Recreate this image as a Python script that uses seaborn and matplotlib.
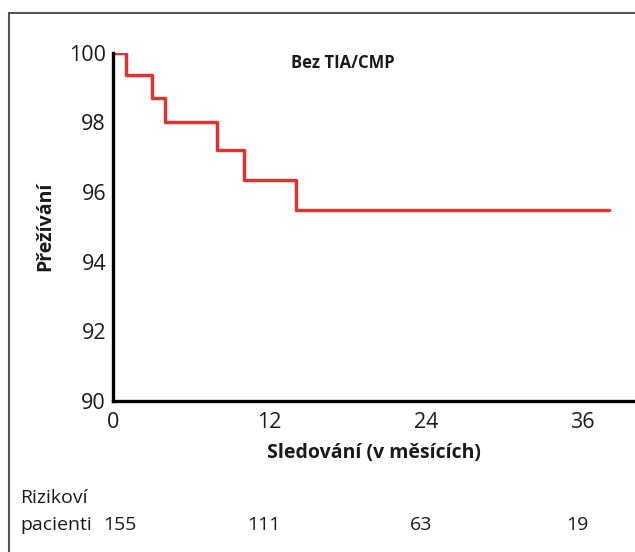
import matplotlib
matplotlib.use("Agg")
import matplotlib.pyplot as plt
import matplotlib.lines as mlines
import seaborn as sns
import pandas as pd

sns.set_style("white")
plt.rcParams['font.family'] = ['Open Sans', 'DejaVu Sans']
plt.rcParams['text.color'] = '#1a1a1a'
plt.rcParams['axes.labelcolor'] = '#1a1a1a'
plt.rcParams['xtick.color'] = '#1a1a1a'
plt.rcParams['ytick.color'] = '#1a1a1a'

# Kaplan-Meier steps
months = [0, 1, 3, 4, 8, 10, 14, 38]
survival = [100, 99.36, 98.7, 98.0, 97.2, 96.35, 95.47, 95.47]
x_ticks = [0, 12, 24, 36]
y_ticks = [90, 92, 94, 96, 98, 100]
at_risk = [155, 111, 63, 19]

df = pd.DataFrame({"months": months, "survival": survival})

fig = plt.figure(figsize=(6.35, 5.52), dpi=100)
ax = fig.add_axes([0.178, 0.274, 0.822, 0.6305])

sns.lineplot(data=df, x="months", y="survival", drawstyle="steps-post",
             color="#dc3434", linewidth=2.5, ax=ax)

ax.set_xlim(0, 40)
ax.set_ylim(90, 100)
ax.set_xticks(x_ticks)
ax.set_yticks(y_ticks)
ax.tick_params(axis="both", direction="out", length=4, width=2, color="black",
               labelsize=15.5, pad=1)
ax.tick_params(axis="x", pad=4)
for s in ["top", "right"]:
    ax.spines[s].set_visible(False)
for s in ["left", "bottom"]:
    ax.spines[s].set_linewidth(2.4)
    ax.spines[s].set_color("black")

ax.set_xlabel("Sledování (v měsících)", fontsize=14, fontweight="bold", labelpad=7)
ax.set_ylabel("Přežívání", fontsize=14, fontweight="bold", labelpad=10)
ax.text(0.44, 0.97, "Bez TIA/CMP", transform=ax.transAxes, ha="center", va="center",
        fontsize=12, fontweight="bold")

# number at risk table
fig.text(20 / 635, 1 - 498 / 552, "Rizikoví", fontsize=14, ha="left", va="center")
fig.text(20 / 635, 1 - 525 / 552, "pacienti", fontsize=14, ha="left", va="center")
for i, (m, n) in enumerate(zip(x_ticks, at_risk)):
    dx = 5 if i == 0 else -4
    ax.annotate(str(n), xy=(m, 0), xycoords=("data", "figure fraction"),
                xytext=(dx, 19.5), textcoords="offset points",
                ha="center", va="center", fontsize=14)

# frame around the figure
fig.add_artist(mlines.Line2D([9 / 635, 1], [1 - 13 / 552, 1 - 13 / 552],
                             color="#555555", linewidth=1.5))
fig.add_artist(mlines.Line2D([9 / 635, 9 / 635], [0, 1 - 13 / 552],
                             color="#555555", linewidth=1.5))

fig.savefig("out.png", dpi=100)
